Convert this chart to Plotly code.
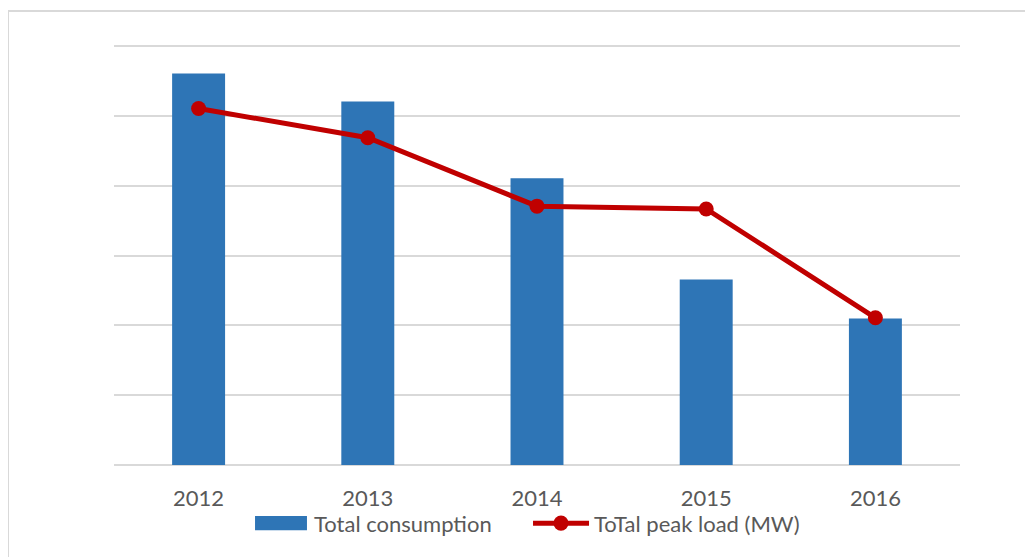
import plotly.graph_objects as go

years = ["2012", "2013", "2014", "2015", "2016"]
total_consumption = [5.61, 5.21, 4.11, 2.66, 2.10]
peak_load = [5.11, 4.69, 3.71, 3.67, 2.11]

bar_color = "#2E75B6"
line_color = "#C00000"
text_color = "#595959"

fig = go.Figure()

fig.add_trace(go.Bar(
    x=years, y=total_consumption, name="Total consumption",
    marker=dict(color=bar_color, line=dict(width=0)),
))
fig.add_trace(go.Scatter(
    x=years, y=peak_load, name="ToTal peak load (MW)",
    mode="lines+markers",
    line=dict(color=line_color, width=5),
    marker=dict(color=line_color, size=15),
))

# light border around the chart area
fig.add_shape(type="rect", xref="paper", yref="paper",
              x0=-0.1253, x1=1.095, y0=-0.26, y1=1.081,
              line=dict(color="#D9D9D9", width=2), layer="below")

# hand made legend (office style wide swatches)
fig.add_shape(type="rect", xref="paper", yref="paper",
              x0=0.1667, x1=0.2281, y0=-0.1551, y1=-0.1217,
              fillcolor=bar_color, line=dict(width=0))
fig.add_shape(type="line", xref="paper", yref="paper",
              x0=0.4953, x1=0.5615, y0=-0.1384, y1=-0.1384,
              line=dict(color=line_color, width=5))
fig.add_shape(type="circle", xref="paper", yref="paper",
              x0=0.5195, x1=0.5372, y0=-0.1563, y1=-0.1205,
              fillcolor=line_color, line=dict(width=0))
fig.add_annotation(text="Total consumption", xref="paper", yref="paper",
                   x=0.234, y=-0.1384, xanchor="left", yanchor="middle",
                   showarrow=False, font=dict(size=22, color=text_color))
fig.add_annotation(text="ToTal peak load (MW)", xref="paper", yref="paper",
                   x=0.565, y=-0.1384, xanchor="left", yanchor="middle",
                   showarrow=False, font=dict(size=22, color=text_color))

fig.update_layout(
    width=1033, height=557,
    margin=dict(l=106, r=81, t=37, b=100),
    plot_bgcolor="white", paper_bgcolor="white",
    font=dict(family="Lato, Open Sans, sans-serif", size=22, color=text_color),
    bargap=0.687,
    showlegend=False,
    xaxis=dict(showgrid=False, showline=False, zeroline=False,
               ticks="outside", ticklen=14, tickcolor="rgba(0,0,0,0)"),
    yaxis=dict(range=[0, 6.02], tickvals=[1, 2, 3, 4, 5, 6], showgrid=True,
               gridcolor="#D9D9D9", gridwidth=2,
               showticklabels=False, zeroline=True, zerolinecolor="#D9D9D9",
               zerolinewidth=2, showline=False),
)

fig.write_html("out.html")
